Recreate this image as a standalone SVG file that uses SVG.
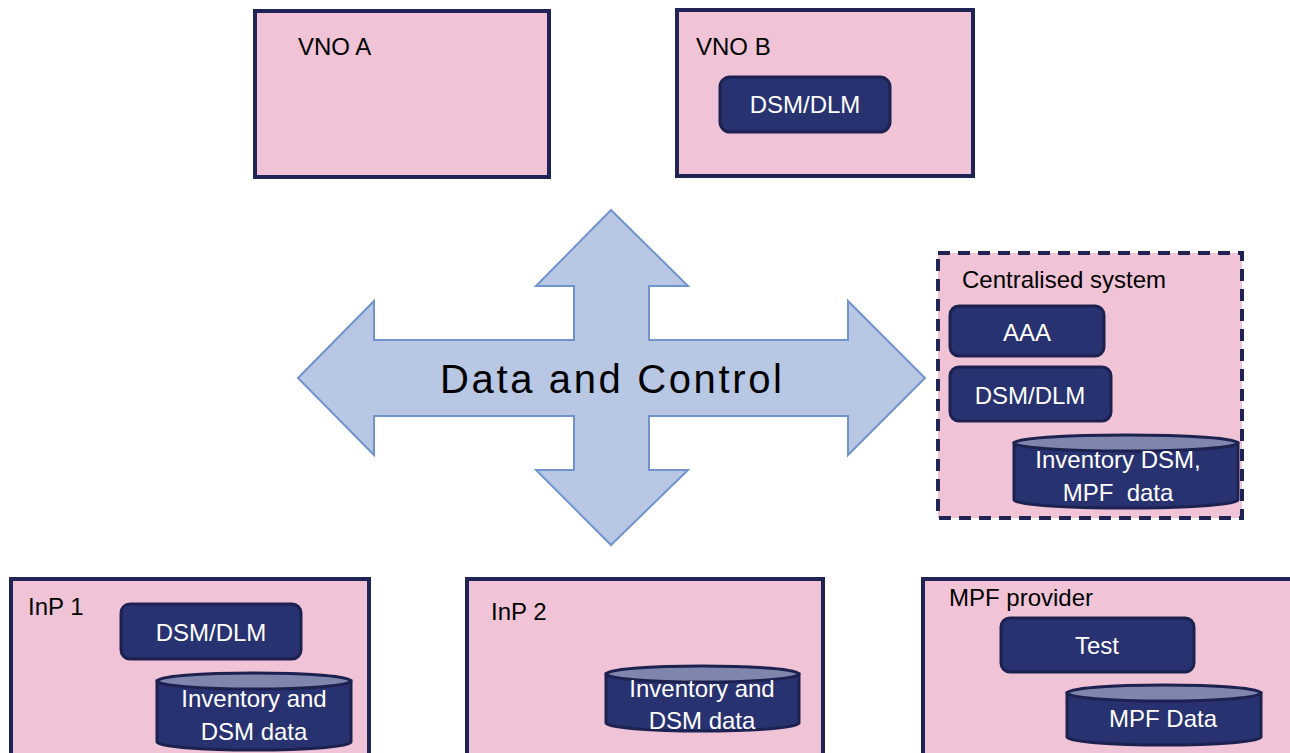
<svg xmlns="http://www.w3.org/2000/svg" width="1290" height="753" viewBox="0 0 1290 753">
<style>
.box{fill:#f0c4d6;stroke:#1f2454;stroke-width:4}
.dash{fill:#f0c4d6;stroke:#1f2454;stroke-width:4;stroke-dasharray:12 8}
.blk{fill:#283270;stroke:#1c2150;stroke-width:3}
.cyltop{fill:#7f86ad;stroke:#1c2150;stroke-width:3}
.lbl{font-family:"Liberation Sans",Arial,sans-serif;font-size:24px;fill:#000}
.wt{font-family:"Liberation Sans",Arial,sans-serif;font-size:24px;fill:#fff;text-anchor:middle}
.arrow{fill:#b8c8e4;stroke:#7093cc;stroke-width:2}
</style>
<g id="connectors">
<polygon class="arrow" points="611,210 688,286 649,286 649,340 848,340 848,301 925,378 848,455 848,416 649,416 649,470 688,470 611,545 536,470 574,470 574,416 374,416 374,455 298,378 374,301 374,340 574,340 574,286 536,286"/>
<text x="611" y="393" font-family="'Liberation Sans',Arial,sans-serif" font-size="40" text-anchor="middle" textLength="342" lengthAdjust="spacing">Data and Control</text>
</g>
<g id="vno-a">
<rect class="box" x="255" y="11" width="294" height="166"/>
<text class="lbl" x="298" y="55">VNO A</text>
</g>
<g id="vno-b">
<rect class="box" x="677" y="10" width="296" height="166"/>
<text class="lbl" x="696" y="55">VNO B</text>
<rect class="blk" x="720" y="77" width="170" height="55" rx="10"/>
<text class="wt" x="805" y="113">DSM/DLM</text>
</g>
<g id="centralised">
<rect class="dash" x="938" y="253" width="304" height="265"/>
<text class="lbl" x="962" y="288">Centralised system</text>
<rect class="blk" x="950" y="306" width="154" height="50" rx="9"/>
<text class="wt" x="1027" y="341">AAA</text>
<rect class="blk" x="950" y="367" width="161" height="54" rx="9"/>
<text class="wt" x="1030" y="404">DSM/DLM</text>
<path class="blk" d="M1014,443 L1014,500 A112,8 0 0 0 1238,500 L1238,443 Z"/>
<ellipse class="cyltop" cx="1126" cy="443" rx="112" ry="8"/>
<text class="wt" x="1118" y="468">Inventory DSM,</text>
<text class="wt" x="1118" y="501" xml:space="preserve">MPF  data</text>
</g>
<g id="inp1">
<rect class="box" x="11" y="579" width="358" height="200"/>
<text class="lbl" x="28" y="615">InP 1</text>
<rect class="blk" x="121" y="604" width="180" height="55" rx="9"/>
<text class="wt" x="211" y="641">DSM/DLM</text>
<path class="blk" d="M157,681 L157,742 A97,8 0 0 0 351,742 L351,681 Z"/>
<ellipse class="cyltop" cx="254" cy="681" rx="97" ry="8"/>
<text class="wt" x="254" y="707">Inventory and</text>
<text class="wt" x="254" y="740">DSM data</text>
</g>
<g id="inp2">
<rect class="box" x="467" y="579" width="356" height="200"/>
<text class="lbl" x="491" y="620">InP 2</text>
<path class="blk" d="M606,674 L606,723 A96.5,8 0 0 0 799,723 L799,674 Z"/>
<ellipse class="cyltop" cx="702.5" cy="674" rx="96.5" ry="8"/>
<text class="wt" x="702" y="697">Inventory and</text>
<text class="wt" x="702" y="729">DSM data</text>
</g>
<g id="mpf">
<rect class="box" x="923" y="579" width="370" height="200"/>
<text class="lbl" x="949" y="606">MPF provider</text>
<rect class="blk" x="1001" y="618" width="193" height="54" rx="9"/>
<text class="wt" x="1097" y="654">Test</text>
<path class="blk" d="M1067,693 L1067,737 A97,8 0 0 0 1261,737 L1261,693 Z"/>
<ellipse class="cyltop" cx="1164" cy="693" rx="97" ry="8"/>
<text class="wt" x="1163" y="727">MPF Data</text>
</g>
</svg>
